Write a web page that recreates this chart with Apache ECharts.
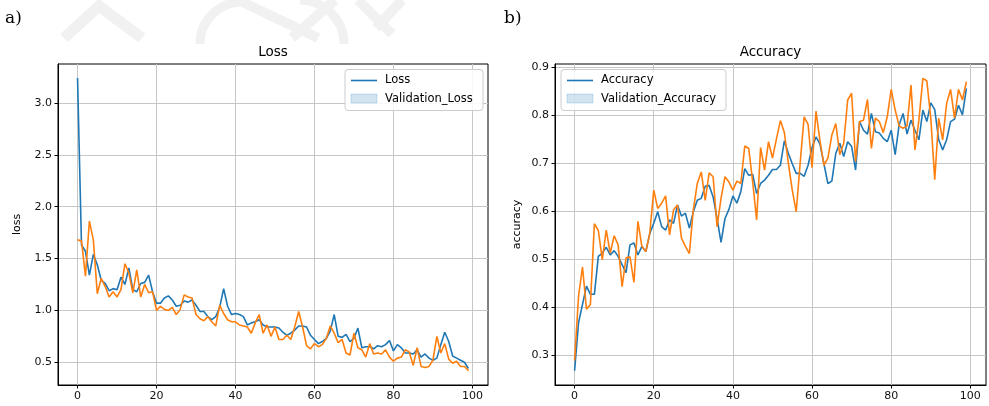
<!DOCTYPE html>
<html><head><meta charset="utf-8">
<script src="https://cdn.jsdelivr.net/npm/echarts@6/dist/echarts.min.js"></script>
<style>html,body{margin:0;padding:0;background:#fff}#c{width:989px;height:406px}</style>
</head><body><div id="c"></div>
<script>
// ---- data ----
const loss = [3.24,1.63,1.57,1.34,1.54,1.44,1.29,1.26,1.19,1.21,
1.20,1.32,1.25,1.41,1.20,1.18,1.26,1.27,1.34,1.18,
1.07,1.07,1.12,1.14,1.10,1.04,1.05,1.09,1.08,1.10,
1.05,0.99,0.99,0.94,0.91,0.94,1.03,1.21,1.04,0.96,
0.97,0.96,0.94,0.86,0.88,0.89,0.91,0.86,0.84,0.84,
0.84,0.83,0.79,0.76,0.78,0.81,0.85,0.85,0.84,0.76,
0.72,0.68,0.70,0.73,0.80,0.96,0.75,0.74,0.77,0.70,
0.73,0.83,0.64,0.65,0.65,0.63,0.66,0.65,0.67,0.71,
0.61,0.67,0.64,0.59,0.59,0.58,0.62,0.55,0.58,0.54,
0.52,0.54,0.67,0.79,0.70,0.56,0.54,0.52,0.50,0.44];
const valLoss = [1.68,1.67,1.33,1.86,1.68,1.16,1.31,1.23,1.13,1.18,
1.13,1.20,1.45,1.36,1.17,1.39,1.13,1.25,1.17,1.18,
1.00,1.04,1.01,1.00,1.03,0.96,1.01,1.15,1.13,1.12,
0.96,0.92,0.90,0.94,0.89,0.85,1.05,0.97,0.91,0.89,
0.89,0.86,0.85,0.84,0.78,0.88,0.96,0.78,0.86,0.75,
0.84,0.72,0.72,0.76,0.72,0.84,0.99,0.84,0.66,0.63,
0.68,0.65,0.67,0.73,0.85,0.78,0.69,0.72,0.59,0.57,
0.78,0.64,0.62,0.55,0.68,0.58,0.59,0.58,0.62,0.55,
0.51,0.54,0.55,0.62,0.60,0.47,0.64,0.46,0.45,0.46,
0.52,0.75,0.59,0.68,0.53,0.49,0.51,0.46,0.46,0.42];
const acc = [0.267,0.367,0.405,0.443,0.426,0.426,0.505,0.512,0.524,0.508,
0.517,0.505,0.488,0.471,0.529,0.533,0.508,0.526,0.515,0.553,
0.574,0.598,0.567,0.560,0.581,0.574,0.612,0.589,0.595,0.564,
0.598,0.622,0.626,0.651,0.653,0.629,0.584,0.534,0.584,0.603,
0.631,0.616,0.640,0.688,0.674,0.676,0.636,0.657,0.664,0.674,
0.686,0.686,0.695,0.746,0.720,0.698,0.678,0.678,0.672,0.695,
0.732,0.754,0.739,0.698,0.657,0.662,0.720,0.741,0.713,0.744,
0.734,0.685,0.786,0.768,0.760,0.803,0.765,0.762,0.751,0.744,
0.768,0.717,0.779,0.803,0.760,0.789,0.768,0.748,0.810,0.786,
0.825,0.811,0.748,0.727,0.748,0.786,0.791,0.820,0.800,0.855];
const valAcc = [0.288,0.422,0.483,0.395,0.405,0.573,0.559,0.498,0.560,0.512,
0.548,0.529,0.442,0.502,0.504,0.451,0.578,0.526,0.515,0.553,
0.643,0.605,0.616,0.631,0.550,0.602,0.612,0.543,0.526,0.511,
0.602,0.657,0.681,0.622,0.679,0.671,0.567,0.626,0.671,0.660,
0.643,0.662,0.657,0.735,0.730,0.660,0.581,0.732,0.685,0.744,
0.710,0.750,0.788,0.763,0.700,0.643,0.598,0.700,0.796,0.780,
0.690,0.808,0.746,0.695,0.710,0.758,0.782,0.717,0.741,0.831,
0.845,0.703,0.786,0.789,0.832,0.730,0.793,0.786,0.763,0.796,
0.853,0.810,0.777,0.772,0.777,0.862,0.727,0.789,0.876,0.871,
0.793,0.665,0.793,0.748,0.824,0.853,0.793,0.853,0.831,0.869];
const xTicks = [0,20,40,60,80,100];
const lossTicks = [0.5,1.0,1.5,2.0,2.5,3.0];
const accTicks = [0.3,0.4,0.5,0.6,0.7,0.8,0.9];

const FONT = 'DejaVu Sans';
const BLUE = '#1f77b4', ORANGE = '#ff7f0e';

function pairs(arr){ return arr.map((v,i)=>[i,v]); }

function xAxis(gi){
  return {
    gridIndex: gi, type:'value', min:-4.95, max:103.95,
    axisLine:{show:true, onZero:false, lineStyle:{color:'#000', width:1}},
    axisTick:{show:true, inside:false, length:3.5, lineStyle:{color:'#000', width:1}, customValues:xTicks},
    axisLabel:{show:true, customValues:xTicks, color:'#111', fontSize:11, fontFamily:FONT, margin:6,
      formatter:v=>String(Math.round(v))},
    splitLine:{show:true, lineStyle:{color:'#c6c6c6', width:1}}
  };
}
function yAxis(gi, min, max, ticks, name, gap){
  return {
    gridIndex: gi, type:'value', min:min, max:max,
    name:name, nameLocation:'middle', nameGap:gap, nameRotate:90,
    nameTextStyle:{color:'#000', fontSize:11, fontFamily:FONT},
    axisLine:{show:true, onZero:false, lineStyle:{color:'#000', width:1}},
    axisTick:{show:true, inside:false, length:3.5, lineStyle:{color:'#000', width:1}, customValues:ticks},
    axisLabel:{show:true, customValues:ticks, color:'#111', fontSize:11, fontFamily:FONT, margin:6,
      formatter:v=>v.toFixed(1)},
    splitLine:{show:true, lineStyle:{color:'#c6c6c6', width:1}}
  };
}
function lineSeries(name, data, color, xi, z){
  return {name:name, type:'line', xAxisIndex:xi, yAxisIndex:xi, data:pairs(data),
    showSymbol:false, symbol:'none', clip:true, z:z, silent:true,
    lineStyle:{color:color, width:1.6}, itemStyle:{color:color}};
}
function legend(x, y, w, labels){
  const h = 41;
  return [
    {type:'rect', shape:{x:x, y:y, width:w, height:h, r:3}, z:50,
      style:{fill:'rgba(255,255,255,0.85)', stroke:'#cccccc', lineWidth:1}},
    {type:'line', shape:{x1:x+6, y1:y+11, x2:x+32, y2:y+11}, z:51,
      style:{stroke:BLUE, lineWidth:1.6}},
    {type:'text', x:x+40, y:y+11, z:51,
      style:{text:labels[0], fill:'#000', fontSize:11.5, fontFamily:FONT, textVerticalAlign:'middle'}},
    {type:'rect', shape:{x:x+6, y:y+24.5, width:26, height:9}, z:51,
      style:{fill:'rgba(31,119,180,0.2)', stroke:'rgba(31,119,180,0.2)', lineWidth:1}},
    {type:'text', x:x+40, y:y+29.5, z:51,
      style:{text:labels[1], fill:'#000', fontSize:11.5, fontFamily:FONT, textVerticalAlign:'middle'}}
  ];
}
const WM = '#f1f1f1';
const watermark = [
  {type:'polyline', shape:{points:[[64,38],[99,6],[142,38]]}, z:-10, style:{stroke:WM, lineWidth:11, fill:null}},
  {type:'arc', shape:{cx:242, cy:44, r:42, startAngle:Math.PI, endAngle:Math.PI*1.5}, z:-10, style:{stroke:WM, lineWidth:9, fill:null}},
  {type:'line', shape:{x1:238, y1:0, x2:318, y2:38}, z:-10, style:{stroke:WM, lineWidth:10}},
  {type:'line', shape:{x1:335, y1:0, x2:292, y2:38}, z:-10, style:{stroke:WM, lineWidth:10}},
  {type:'arc', shape:{cx:300, cy:44, r:44, startAngle:-Math.PI*0.5, endAngle:0}, z:-10, style:{stroke:WM, lineWidth:9, fill:null}},
  {type:'line', shape:{x1:358, y1:0, x2:392, y2:34}, z:-10, style:{stroke:WM, lineWidth:10}},
  {type:'line', shape:{x1:402, y1:0, x2:376, y2:28}, z:-10, style:{stroke:WM, lineWidth:10}}
];

const chart = echarts.init(document.getElementById('c'), null, {renderer:'canvas'});
chart.setOption({
  backgroundColor:'#fff',
  animation:false,
  grid:[
    {left:58, top:64, width:430, height:321, show:true, borderColor:'#000', borderWidth:1, backgroundColor:'transparent', outerBoundsMode:'none', containLabel:false},
    {left:555, top:64, width:431, height:321, show:true, borderColor:'#000', borderWidth:1, backgroundColor:'transparent', outerBoundsMode:'none', containLabel:false}
  ],
  xAxis:[xAxis(0), xAxis(1)],
  yAxis:[yAxis(0, 0.281, 3.375, lossTicks, 'loss', 35), yAxis(1, 0.237, 0.906, accTicks, 'accuracy', 32)],
  series:[
    lineSeries('Loss', loss, BLUE, 0, 2),
    lineSeries('Validation_Loss', valLoss, ORANGE, 0, 3),
    lineSeries('Accuracy', acc, BLUE, 1, 2),
    lineSeries('Validation_Accuracy', valAcc, ORANGE, 1, 3)
  ],
  graphic:[].concat(
    watermark,
    [
      {type:'text', x:5, y:19, style:{text:'a)', fill:'#000', fontSize:17, fontFamily:'DejaVu Serif', textVerticalAlign:'middle'}},
      {type:'text', x:504, y:19, style:{text:'b)', fill:'#000', fontSize:17, fontFamily:'DejaVu Serif', textVerticalAlign:'middle'}},
      {type:'text', x:273, y:52.5, style:{text:'Loss', fill:'#000', fontSize:13.5, fontFamily:FONT, textAlign:'center', textVerticalAlign:'middle'}},
      {type:'text', x:770.5, y:52.5, style:{text:'Accuracy', fill:'#000', fontSize:13.5, fontFamily:FONT, textAlign:'center', textVerticalAlign:'middle'}}
    ],
    legend(345, 69.5, 138, ['Loss','Validation_Loss']),
    legend(561, 69.5, 165, ['Accuracy','Validation_Accuracy'])
  )
});
</script></body></html>
